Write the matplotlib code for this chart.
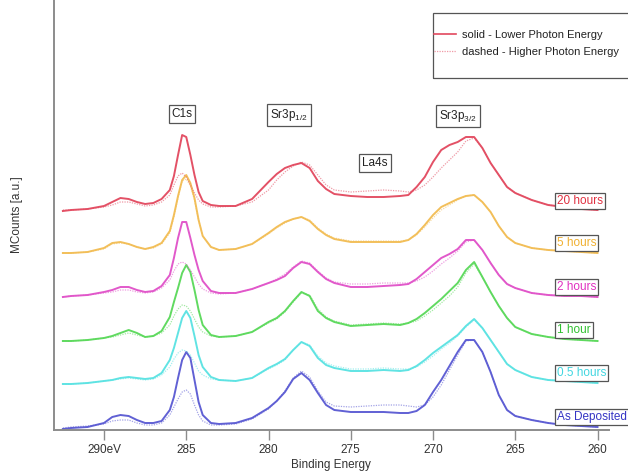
import matplotlib
matplotlib.use('Agg')
import matplotlib.pyplot as plt
from matplotlib.patches import Rectangle
from matplotlib.lines import Line2D

plt.rcParams['font.family'] = ['Liberation Sans', 'DejaVu Sans']
plt.rcParams['mathtext.fontset'] = 'custom'
plt.rcParams['mathtext.rm'] = 'Liberation Sans'
plt.rcParams['mathtext.it'] = 'Liberation Sans:italic'

# ---------------- data ----------------
energy = [292.5, 292, 291, 290, 289.5, 289, 288.5, 288, 287.5, 287, 286.5, 286,
          285.75, 285.5, 285.25, 285, 284.75, 284.5, 284.25, 284, 283.5, 283,
          282, 281, 280, 279.5, 279, 278.5, 278, 277.5, 277, 276.5, 276, 275,
          274, 273, 272, 271.5, 271, 270.5, 270, 269.5, 269, 268.5, 268, 267.5,
          267, 266.5, 266, 265.5, 265, 264, 263, 262, 261, 260]

series_names = ['As Deposited', '0.5 hours', '1 hour', '2 hours', '5 hours', '20 hours']
offsets = [3, 47, 89, 133, 177, 220]

# solid = lower photon energy
low_asdep = [-2, -1, 0, 4, 10, 12, 11, 7, 4, 4, 6, 17, 30, 49, 67, 75, 69, 47, 25, 12, 4, 3, 4, 9, 19, 26, 35, 48, 54, 47, 34, 22, 17, 15, 15, 15, 14, 14, 16, 22, 35, 47, 61, 75, 87, 87, 75, 55, 32, 17, 11, 7, 4, 2, 1, 0]
low_05h = [-1, -1, 0, 2, 3, 5, 6, 5, 4, 5, 10, 23, 35, 50, 65, 72, 65, 47, 28, 16, 6, 3, 2, 5, 15, 19, 24, 33, 41, 37, 25, 18, 15, 12, 12, 13, 12, 13, 17, 23, 30, 36, 42, 48, 57, 64, 55, 43, 31, 19, 13, 6, 3, 2, 1, 0]
low_1h = [0, 0, 1, 3, 5, 8, 11, 8, 4, 5, 10, 24, 39, 53, 68, 76, 69, 51, 31, 16, 6, 4, 5, 9, 19, 23, 30, 40, 49, 45, 30, 23, 19, 15, 16, 17, 16, 18, 22, 28, 35, 42, 50, 58, 71, 79, 64, 49, 35, 23, 14, 7, 4, 2, 1, 0]
low_2h = [0, 1, 2, 5, 7, 10, 10, 7, 5, 6, 11, 22, 39, 59, 75, 75, 59, 42, 27, 16, 6, 4, 4, 8, 14, 17, 21, 29, 35, 33, 25, 18, 14, 10, 10, 11, 12, 13, 18, 25, 32, 39, 43, 48, 57, 57, 47, 34, 22, 13, 9, 4, 2, 1, 1, 0]
low_5h = [0, 0, 1, 5, 10, 11, 9, 6, 4, 6, 10, 22, 38, 57, 73, 78, 70, 55, 33, 17, 6, 3, 4, 9, 20, 26, 31, 34, 36, 32, 24, 18, 14, 11, 11, 11, 11, 13, 19, 28, 38, 46, 50, 54, 57, 58, 51, 41, 27, 16, 10, 5, 3, 2, 1, 0]
low_20h = [-1, 0, 1, 4, 8, 12, 11, 8, 6, 7, 11, 20, 34, 55, 75, 73, 55, 35, 18, 9, 5, 4, 4, 11, 28, 36, 42, 45, 47, 42, 29, 21, 16, 14, 13, 13, 14, 15, 23, 33, 48, 60, 65, 68, 73, 73, 62, 47, 35, 23, 17, 10, 5, 3, 1, 0]

# dashed = higher photon energy
high_asdep = [-1, 0, 1, 3, 6, 7, 7, 4, 2, 2, 4, 12, 20, 28, 35, 37, 33, 22, 12, 6, 2, 2, 3, 8, 18, 26, 36, 49, 56, 50, 36, 25, 21, 20, 21, 22, 22, 21, 20, 22, 30, 42, 57, 72, 86, 87, 75, 55, 32, 17, 11, 7, 4, 2, 1, 0]
high_05h = [-1, -1, 0, 2, 3, 4, 5, 4, 3, 4, 8, 16, 24, 30, 33, 32, 28, 20, 12, 8, 4, 3, 2, 5, 14, 18, 23, 33, 41, 38, 27, 20, 17, 14, 14, 15, 14, 14, 16, 21, 27, 34, 40, 47, 56, 63, 55, 43, 31, 19, 13, 6, 3, 2, 1, 0]
high_1h = [0, 0, 1, 3, 4, 6, 8, 6, 4, 5, 8, 16, 25, 32, 36, 35, 30, 22, 14, 9, 5, 4, 5, 9, 18, 22, 29, 39, 48, 46, 32, 24, 20, 16, 17, 18, 17, 18, 20, 25, 31, 38, 45, 54, 68, 77, 64, 49, 35, 23, 14, 7, 4, 2, 1, 0]
high_2h = [0, 1, 2, 4, 5, 7, 7, 5, 4, 5, 9, 17, 26, 33, 35, 33, 27, 20, 13, 8, 4, 3, 4, 8, 14, 18, 23, 30, 36, 34, 26, 19, 15, 13, 13, 14, 14, 14, 16, 20, 26, 33, 39, 46, 55, 57, 47, 34, 22, 13, 9, 4, 2, 1, 1, 0]
high_5h = [0, 0, 1, 4, 9, 10, 9, 6, 4, 5, 9, 20, 36, 55, 72, 74, 67, 53, 33, 17, 6, 3, 4, 9, 19, 25, 30, 34, 36, 33, 25, 19, 15, 12, 12, 12, 12, 13, 18, 26, 35, 43, 48, 53, 57, 58, 51, 41, 27, 16, 10, 5, 3, 2, 1, 0]
high_20h = [0, 0, 1, 3, 5, 8, 8, 6, 4, 5, 8, 15, 25, 34, 37, 33, 25, 17, 10, 6, 3, 3, 4, 8, 20, 30, 38, 44, 48, 45, 35, 25, 20, 18, 19, 20, 19, 18, 20, 25, 33, 42, 50, 58, 69, 72, 62, 47, 35, 23, 17, 10, 5, 3, 1, 0]

low_series = [low_asdep, low_05h, low_1h, low_2h, low_5h, low_20h]
high_series = [high_asdep, high_05h, high_1h, high_2h, high_5h, high_20h]

peak_labels = ['C1s', 'Sr3p$_{1/2}$', 'La4s', 'Sr3p$_{3/2}$']
peak_label_energy = [285.26, 278.75, 273.53, 268.48]
peak_label_height = [316, 315, 267, 314]

xticks = [290, 285, 280, 275, 270, 265, 260]
xtick_labels = ['290eV', '285', '280', '275', '270', '265', '260']

# ---------------- style ----------------
line_colors = ['#5858D2', '#58E2E2', '#58D858', '#E050C8', '#F2BC52', '#E2485E']
text_colors = ['#3434C4', '#40D6E0', '#30C030', '#E030C0', '#F0B030', '#E03040']
label_heights = [13, 57, 100, 143, 187, 229]

W, H = 628, 472
fig = plt.figure(figsize=(W / 100, H / 100), dpi=100)
ax = fig.add_axes([54 / W, (H - 430) / H, (608.7 - 54) / W, 430 / H])

for base, lo, hi, c in zip(offsets, low_series, high_series, line_colors):
    ax.plot(energy, [base + v for v in hi], color=c, lw=0.9, alpha=0.55,
            linestyle=(0, (1, 1)), solid_joinstyle='round')
    ax.plot(energy, [base + v for v in lo], color=c, lw=1.4, alpha=0.95,
            solid_joinstyle='round')

ax.set_xlim(293.04, 259.32)
ax.set_ylim(0, 430)

for sp in ['top', 'right']:
    ax.spines[sp].set_visible(False)
for sp in ['left', 'bottom']:
    ax.spines[sp].set_color('#8c8c8c')
    ax.spines[sp].set_linewidth(1.4)
ax.set_yticks([])
ax.set_xticks(xticks)
ax.set_xticklabels(xtick_labels, fontsize=8.5, color='#333333')
ax.tick_params(axis='x', direction='out', length=7, width=1, color='#8c8c8c', pad=3)
ax.set_xlabel('Binding Energy', fontsize=8.5, color='#333333', labelpad=2)
ax.set_ylabel('MCounts [a.u.]', fontsize=8.5, color='#333333', labelpad=22)

box = dict(boxstyle='square,pad=0.25', fc='white', ec='#555555', lw=0.9)
for lab, e, h in zip(peak_labels, peak_label_energy, peak_label_height):
    ax.text(e, h, lab, ha='center', va='center', fontsize=8.5, color='#222222', bbox=box)

for name, h, tc in zip(series_names, label_heights, text_colors):
    ax.text(262.45, h, name, ha='left', va='center', fontsize=8.5, color=tc,
            bbox=dict(boxstyle='square,pad=0.15', fc='white', ec='#555555', lw=0.9),
            clip_on=False)

# legend
handles = [Line2D([], [], color='#E2485E', lw=1.2),
           Line2D([], [], color='#E2485E', lw=0.9, alpha=0.55, linestyle=(0, (1, 1)))]
fig.legend(handles, ['solid - Lower Photon Energy', 'dashed - Higher Photon Energy'],
           loc='upper left', bbox_to_anchor=(434 / W, 1 - 30 / H), frameon=False,
           fontsize=8, handlelength=2.0, handletextpad=0.5, labelspacing=0.6,
           borderpad=0, borderaxespad=0, labelcolor='#222222')
fig.add_artist(Rectangle((433 / W, 1 - 78 / H), 210 / W, 65 / H, transform=fig.transFigure,
                         fill=False, ec='#555555', lw=0.9))

fig.savefig('out.png', dpi=100)
